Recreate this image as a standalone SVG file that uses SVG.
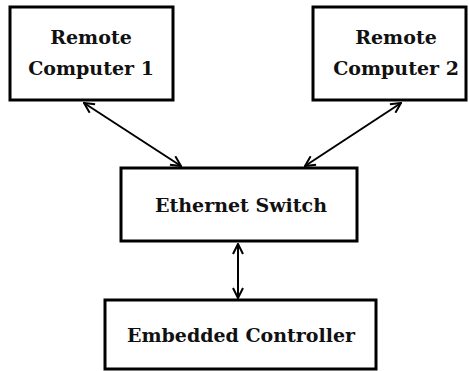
<svg xmlns="http://www.w3.org/2000/svg" width="469" height="371" viewBox="0 0 469 371">
  <style>
    .box { fill: #fff; stroke: #000; stroke-width: 3; }
    .lbl { font-family: "DejaVu Serif", "Liberation Serif", serif; font-weight: bold; font-size: 19px; fill: #111; text-anchor: middle; }
    .wire { stroke: #000; stroke-width: 2; fill: none; marker-start: url(#head); marker-end: url(#head); }
  </style>
  <defs>
    <marker id="head" viewBox="0 0 12 12" refX="11" refY="6" markerWidth="12" markerHeight="12" markerUnits="userSpaceOnUse" orient="auto-start-reverse">
      <path d="M1,1 L11,6 L1,11" fill="none" stroke="#000" stroke-width="2"/>
    </marker>
  </defs>
  <rect width="469" height="371" fill="#fff"/>
  <g id="connectors">
    <line class="wire" x1="84" y1="103" x2="181" y2="166"/>
    <line class="wire" x1="401" y1="103" x2="305" y2="166"/>
    <line class="wire" x1="238" y1="244" x2="238" y2="298"/>
  </g>
  <g id="remote1">
    <rect class="box" x="10" y="7" width="163" height="93"/>
    <text class="lbl" x="91" y="44">Remote</text>
    <text class="lbl" x="91" y="75">Computer 1</text>
  </g>
  <g id="remote2">
    <rect class="box" x="313" y="7" width="153" height="93"/>
    <text class="lbl" x="396" y="44">Remote</text>
    <text class="lbl" x="396" y="75">Computer 2</text>
  </g>
  <g id="switch">
    <rect class="box" x="121" y="168" width="236" height="73"/>
    <text class="lbl" x="241" y="212">Ethernet Switch</text>
  </g>
  <g id="controller">
    <rect class="box" x="105" y="300" width="271" height="69"/>
    <text class="lbl" x="241" y="342">Embedded Controller</text>
  </g>
</svg>
